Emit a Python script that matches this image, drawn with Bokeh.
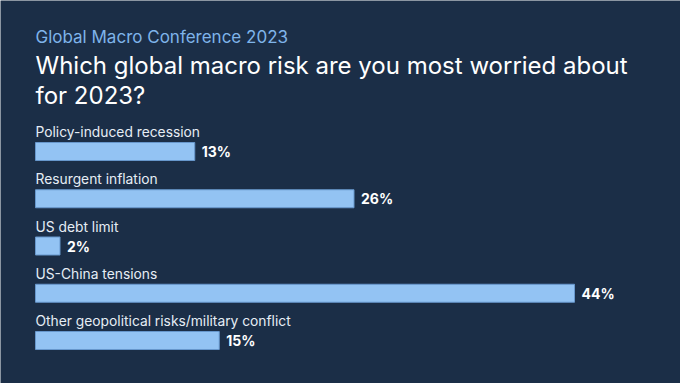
from bokeh.plotting import figure
from bokeh.models import ColumnDataSource, Range1d, Label
from bokeh.embed import file_html
from bokeh.resources import INLINE
from bokeh.core.properties import value

categories = ["Policy-induced recession", "Resurgent inflation", "US debt limit",
              "US-China tensions", "Other geopolitical risks/military conflict"]
values = [13, 26, 2, 44, 15]
value_labels = ["13%", "26%", "2%", "44%", "15%"]

subtitle = "Global Macro Conference 2023"
title_lines = ["Which global macro risk are you most worried about", "for 2023?"]

W, H = 680, 383
BG = "#1b2e47"
FONT = "Inter"

# layout (figure pixels)
x0_px = 35.0          # where 0% sits
px_per_pct = 12.25
y0_px = 151.0         # centre of first bar from top
row_px = 47.25
bar_px = 18.0
cat_gap_px = 19.5     # label anchor above bar centre

idx = list(range(len(categories)))
src = ColumnDataSource(dict(y=idx, ylab=[i - cat_gap_px / row_px for i in idx],
                            v=values, cat=categories, lab=value_labels))

p = figure(width=W, height=H, output_backend="svg", toolbar_location=None,
           x_range=Range1d(-x0_px / px_per_pct, (W - x0_px) / px_per_pct),
           y_range=Range1d((H - y0_px) / row_px, -y0_px / row_px),
           min_border=0, background_fill_color=BG, border_fill_color=BG,
           outline_line_color=None)
p.axis.visible = False
p.grid.visible = False

p.hbar(y="y", left=0, right="v", height=bar_px / row_px, source=src,
       fill_color="#93c3f3", line_color="#6797cc", line_width=1)

p.text(x=0, y="ylab", text="cat", source=src,
       text_font=value(FONT), text_font_size="13.8px", text_color="#e6edf5",
       text_baseline="alphabetic", text_align="left")

p.text(x="v", y="y", text="lab", source=src, x_offset=7,
       text_font=value(FONT), text_font_size="14px", text_font_style="bold",
       text_color="#ffffff", text_baseline="middle", text_align="left")

p.add_layout(Label(x=x0_px, y=H - 36, x_units="screen", y_units="screen",
                   text=subtitle, text_font=FONT, text_font_size="17px",
                   text_color="#7fb4ea", text_baseline="alphabetic"))
for k, line in enumerate(title_lines):
    p.add_layout(Label(x=x0_px, y=H - 65 - 30 * k, x_units="screen", y_units="screen",
                       text=line, text_font=FONT, text_font_size="24px",
                       text_color="#ffffff", text_baseline="alphabetic"))

open("out.html", "w").write(file_html(p, INLINE))
